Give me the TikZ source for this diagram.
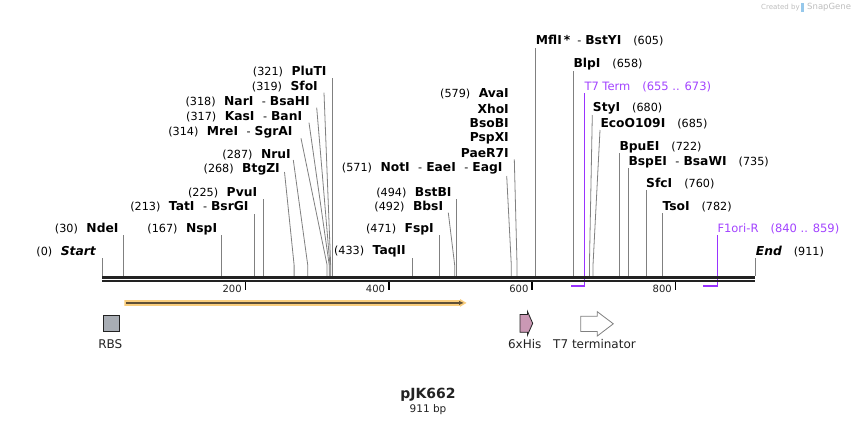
\documentclass[tikz,border=0pt]{standalone}
\usepackage{fontspec}
\setmainfont{DejaVu Sans}
\usetikzlibrary{arrows.meta}
\definecolor{cutgray}{RGB}{128,128,128}
\definecolor{bbone}{RGB}{34,34,34}
\definecolor{purpline}{RGB}{153,51,255}
\definecolor{purptext}{RGB}{163,68,255}
\definecolor{orfout}{RGB}{250,206,125}
\definecolor{orfin}{RGB}{95,80,55}
\definecolor{rbsfill}{RGB}{168,173,180}
\definecolor{hisfill}{RGB}{202,152,180}
\definecolor{wmgray}{RGB}{190,190,190}
\definecolor{wmblue}{RGB}{150,200,235}
\newcommand\mysite[4]{%
  \coordinate (#1t) at (#3,#4);
  \coordinate (#1b) at ({102+0.71679*#2},276);
  \draw[cutline] (#1t) -- ({102+0.71679*#2},265) -- (#1b);}
\newcommand\myvcut[3]{%
  \coordinate (#1t) at ({102+0.71679*#2},#3);
  \coordinate (#1b) at ({102+0.71679*#2},276);
  \draw[cutline] (#1t) -- (#1b);}
\newcommand\gapA{\hspace{8.5pt}}
\newcommand\gapB{\hspace{12pt}}
\newcommand\bn[1]{{\fontsize{12.3}{13}\selectfont\bfseries #1}}
\newcommand\dsh{\hspace{8.5pt}-\hspace{4pt}}
\begin{document}
\begin{tikzpicture}[x=1pt,y=-1pt,
  cutline/.style={draw=cutgray,line width=0.8pt},
  lab/.style={inner sep=0pt,font=\fontsize{11.2}{13}\selectfont,text=black},
  plab/.style={inner sep=0pt,font=\fontsize{11.5}{13}\selectfont,text=purptext},
  featlab/.style={inner sep=0pt,font=\fontsize{12}{13}\selectfont,text=bbone},
  ticklab/.style={inner sep=0pt,font=\fontsize{10}{12}\selectfont,text=bbone,anchor=east},
  tickmark/.style={draw=black,line width=1.7pt},
  purpmark/.style={draw=purpline,line width=1.8pt},
  purpvert/.style={draw=purpline,line width=1.3pt}]
\useasboundingbox (0,0) rectangle (858,426);
\fill[white] (0,0) rectangle (858,426);

% watermark
\node[inner sep=0pt,anchor=west,font=\fontsize{7}{8}\selectfont,text=wmgray] (wm1) at (761,7.5) {Created by};
\fill[wmblue] (801,3) rectangle (804,12);
\node[inner sep=0pt,anchor=west,font=\fontsize{8.5}{9}\selectfont,text=wmgray] (wm2) at (807,7.5) {SnapGene};

% cut site lines
\myvcut{Start}{0}{258}
\myvcut{NdeI}{30}{235}
\myvcut{NspI}{167}{235}
\myvcut{TatI}{213}{214}
\myvcut{PvuI}{225}{199}
\mysite{BtgZI}{268}{284.5}{172}
\mysite{NruI}{287}{293.3}{160}
\mysite{MreI}{314}{301}{138.3}
\mysite{KasI}{317}{309}{122.7}
\mysite{NarI}{318}{316.7}{107.7}
\mysite{SfoI}{319}{324}{92.7}
\myvcut{PluTI}{321}{78}
\myvcut{TaqII}{433}{258}
\myvcut{FspI}{471}{235}
\mysite{BbsI}{492}{448.3}{212.7}
\myvcut{BstBI}{494}{199}
\mysite{NotI}{571}{506.7}{176}
\mysite{AvaI}{579}{514.3}{159.3}
\myvcut{MflI}{605}{48}
\myvcut{BlpI}{658}{71}
\mysite{StyI}{680}{592.3}{115}
\mysite{EcoO}{685}{600}{130}
\myvcut{BpuEI}{722}{153}
\myvcut{BspEI}{735}{168}
\myvcut{SfcI}{760}{190}
\myvcut{TsoI}{782}{213}
\myvcut{End}{911}{258}

% primer lines
\coordinate (T7t) at (584.4,93);
\coordinate (T7b) at (584.4,287);
\draw[purpvert] (T7t) -- (T7b);
\coordinate (F1t) at (717.4,235);
\coordinate (F1b) at (717.4,287);
\draw[purpvert] (F1t) -- (F1b);

% backbone
\coordinate (bbL) at (102,277.5);
\coordinate (bbR) at (755,277.5);
\coordinate (bbL2) at (102,281.3);
\coordinate (bbR2) at (755,281.3);
\draw[bbone,line width=2.5pt] (bbL) -- (bbR);
\draw[bbone,line width=2.2pt] (bbL2) -- (bbR2);

% ticks
\foreach \v in {200,400,600,800}{
  \coordinate (tk\v) at ({102+0.71679*\v},282.3);
  \draw[tickmark] (tk\v) -- ++(0,7.2);
  \node[ticklab] (tl\v) at ({102+0.71679*\v-3.5},289) {\v};
}

% primer marks under backbone
\coordinate (T7m1) at (571.3,285.6);
\coordinate (T7m2) at (584.4,285.6);
\draw[purpmark] (T7m1) -- (T7m2);
\coordinate (F1m1) at (703.3,285.6);
\coordinate (F1m2) at (717.4,285.6);
\draw[purpmark] (F1m1) -- (F1m2);

% ORF arrow
\fill[orfout] (124.3,300) -- (460,300) -- (460,299) -- (466.5,302.9) -- (460,306.8) -- (460,305.8) -- (124.3,305.8) -- cycle;
\coordinate (orfS) at (126,302.9);
\coordinate (orfE) at (464,302.9);
\draw[orfin,line width=1.3pt,-{Latex[length=5pt,width=4.5pt]}] (orfS) -- (orfE);

% features
\node[draw=bbone,line width=0.9pt,fill=rbsfill,minimum width=16.3pt,minimum height=16.3pt,inner sep=0pt] (rbs) at (111.5,323.5) {};
\node[featlab] (rbsl) at (110.3,344) {RBS};
\filldraw[fill=hisfill,draw=bbone,line width=0.8pt] (520,314.5) -- (527.5,314.5) -- (527.5,311.5) -- (532.7,323.3) -- (527.5,335) -- (527.5,332.3) -- (520,332.3) -- cycle;
\coordinate (his) at (526,323.3);
\node[featlab] (hisl) at (524.7,344) {6xHis};
\filldraw[fill=white,draw=cutgray,line width=0.8pt] (580.7,316.2) -- (597.3,316.2) -- (597.3,311.7) -- (613.3,323.8) -- (597.3,336) -- (597.3,331.5) -- (580.7,331.5) -- cycle;
\coordinate (t7f) at (597,323.8);
\node[featlab] (t7l) at (594.5,344) {T7 terminator};

% left-side labels (number first)
\node[lab,anchor=east] (lStart) at (96,252) {(0)\gapA\bn{\itshape Start}};
\node[lab,anchor=east] (lNdeI) at (118.7,229) {(30)\gapA\bn{NdeI}};
\node[lab,anchor=east] (lNspI) at (217.3,229) {(167)\gapA\bn{NspI}};
\node[lab,anchor=east] (lTatI) at (248.7,206.7) {(213)\gapA\bn{TatI}\dsh\bn{BsrGI}};
\node[lab,anchor=east] (lPvuI) at (257.3,192.3) {(225)\gapA\bn{PvuI}};
\node[lab,anchor=east] (lBtgZI) at (280,169.3) {(268)\gapA\bn{BtgZI}};
\node[lab,anchor=east] (lNruI) at (291,154.3) {(287)\gapA\bn{NruI}};
\node[lab,anchor=east] (lMreI) at (292.7,132) {(314)\gapA\bn{MreI}\dsh\bn{SgrAI}};
\node[lab,anchor=east] (lKasI) at (302.3,116.7) {(317)\gapA\bn{KasI}\dsh\bn{BanI}};
\node[lab,anchor=east] (lNarI) at (310,102) {(318)\gapA\bn{NarI}\dsh\bn{BsaHI}};
\node[lab,anchor=east] (lSfoI) at (318,86.7) {(319)\gapA\bn{SfoI}};
\node[lab,anchor=east] (lPluTI) at (326.7,71.3) {(321)\gapA\bn{PluTI}};
\node[lab,anchor=east] (lTaqII) at (406,251.3) {(433)\gapA\bn{TaqII}};
\node[lab,anchor=east] (lFspI) at (434,229) {(471)\gapA\bn{FspI}};
\node[lab,anchor=east] (lBbsI) at (443.3,207) {(492)\gapA\bn{BbsI}};
\node[lab,anchor=east] (lBstBI) at (451.7,192.3) {(494)\gapA\bn{BstBI}};
\node[lab,anchor=east] (lNotI) at (502.7,168.8) {(571)\gapA\bn{NotI}\dsh\bn{EaeI}\dsh\bn{EagI}};
\node[lab,anchor=east] (lAvaI) at (509,93.7) {(579)\gapA\bn{AvaI}};
\node[lab,anchor=east] (lXhoI) at (509,108.5) {\bn{XhoI}};
\node[lab,anchor=east] (lBsoBI) at (509,123.5) {\bn{BsoBI}};
\node[lab,anchor=east] (lPspXI) at (509,138.5) {\bn{PspXI}};
\node[lab,anchor=east] (lPaeR7I) at (509,153.3) {\bn{PaeR7I}};

% right-side labels (name first)
\node[lab,anchor=west] (lMflI) at (535.7,41) {\bn{MflI}\hspace{2pt}\bn{*}\hspace{7pt}-\hspace{4pt}\bn{BstYI}\gapB(605)};
\node[lab,anchor=west] (lBlpI) at (573.3,63.7) {\bn{BlpI}\gapB(658)};
\node[plab,anchor=west] (lT7) at (584.3,87) {T7 Term\gapB(655 .. 673)};
\node[lab,anchor=west] (lStyI) at (592.7,108.7) {\bn{StyI}\gapB(680)};
\node[lab,anchor=west] (lEcoO) at (600.3,124) {\bn{EcoO109I}\gapB(685)};
\node[lab,anchor=west] (lBpuEI) at (619.3,147) {\bn{BpuEI}\gapB(722)};
\node[lab,anchor=west] (lBspEI) at (628.3,162) {\bn{BspEI}\dsh\bn{BsaWI}\gapB(735)};
\node[lab,anchor=west] (lSfcI) at (646,183.7) {\bn{SfcI}\gapB(760)};
\node[lab,anchor=west] (lTsoI) at (662.3,207) {\bn{TsoI}\gapB(782)};
\node[plab,anchor=west] (lF1) at (717.3,229.3) {F1ori-R\gapB(840 .. 859)};
\node[lab,anchor=west] (lEnd) at (755.7,252) {\bn{\itshape End}\gapB(911)};

% title
\node[inner sep=0pt,font=\fontsize{14}{16}\selectfont\bfseries,text=bbone] (title) at (428,395) {pJK662};
\node[inner sep=0pt,font=\fontsize{10.5}{12}\selectfont,text=bbone] (size) at (428,410) {911 bp};
\end{tikzpicture}
\end{document}
